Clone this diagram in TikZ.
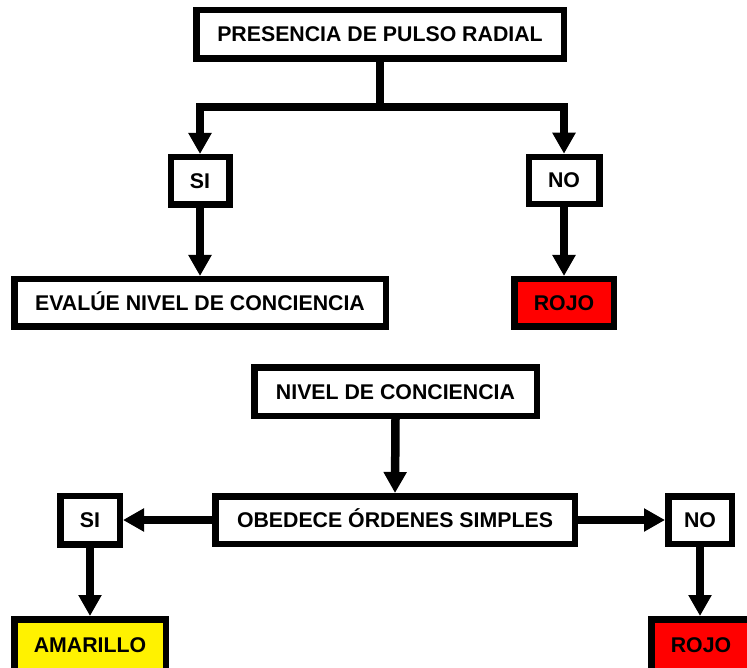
\documentclass[tikz,border=0pt]{standalone}
\usepackage{fontspec}
\setmainfont{Liberation Sans}
\usetikzlibrary{arrows.meta}
\tikzset{
  box/.style={draw=black, line width=6.5pt, rectangle, inner sep=0pt,
    font=\fontsize{21.3}{25}\selectfont\bfseries, text height=15pt, text depth=0pt,
    align=center},
  whitebox/.style={box, fill=white},
  redbox/.style={box, fill=red},
  yellowbox/.style={box, fill=yellow},
  link/.style={line width=8.5pt, draw=black, line join=miter},
  arrowlink/.style={link, -{Triangle[length=21pt,width=22pt]}}
}
\begin{document}
\begin{tikzpicture}[x=1pt, y=-1pt]
\useasboundingbox (0,0) rectangle (747,668);
% top tree
\node[whitebox, minimum width=367.5pt, minimum height=48.5pt] (top) at (380,34.5) {PRESENCIA DE PULSO RADIAL};
\node[whitebox, minimum width=58.5pt, minimum height=47.5pt] (si1) at (200,181) {SI};
\node[whitebox, minimum width=70.5pt, minimum height=47pt] (no1) at (564,180.5) {NO};
\node[whitebox, minimum width=371.5pt, minimum height=47.5pt] (eval) at (200,303) {EVALÚE NIVEL DE CONCIENCIA};
\node[redbox, minimum width=99.5pt, minimum height=47.5pt] (rojo1) at (564,303) {ROJO};
\coordinate (j1) at (380,107);
\draw[link] (top.south) -- (j1);
\draw[arrowlink] (j1) -| (si1.north);
\draw[arrowlink] (j1) -| (no1.north);
\draw[arrowlink] (si1.south) -- (eval.north);
\draw[arrowlink] (no1.south) -- (rojo1.north);
% bottom tree
\node[whitebox, minimum width=282.5pt, minimum height=48.5pt] (nivel) at (395.5,391.5) {NIVEL DE CONCIENCIA};
\node[whitebox, minimum width=359.5pt, minimum height=47.5pt] (obed) at (395,520) {OBEDECE ÓRDENES SIMPLES};
\node[whitebox, minimum width=59.5pt, minimum height=48.5pt] (si2) at (90,520) {SI};
\node[whitebox, minimum width=63.5pt, minimum height=47.5pt] (no2) at (700,520) {NO};
\node[yellowbox, minimum width=151.5pt, minimum height=51.5pt] (amar) at (90,645) {AMARILLO};
\node[redbox, minimum width=99.5pt, minimum height=51.5pt] (rojo2) at (701,645) {ROJO};
\draw[arrowlink] (nivel.south) -- (obed.north);
\draw[arrowlink] (obed.west) -- (si2.east);
\draw[arrowlink] (obed.east) -- (no2.west);
\draw[arrowlink] (si2.south) -- (amar.north);
\draw[arrowlink] (no2.south) -- (no2.south |- rojo2.north);
\end{tikzpicture}
\end{document}
